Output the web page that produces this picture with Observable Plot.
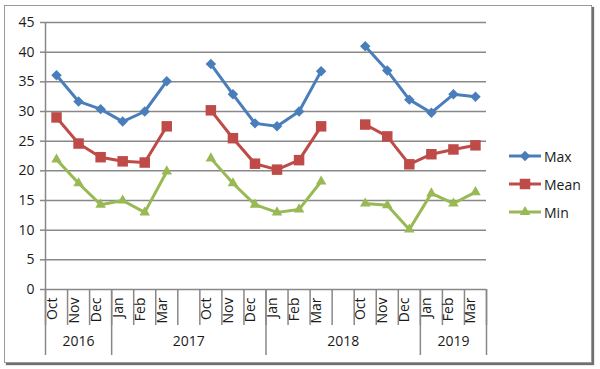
<!DOCTYPE html>
<html><head><meta charset="utf-8">
<script src="https://cdn.jsdelivr.net/npm/d3@7"></script>
<script src="https://cdn.jsdelivr.net/npm/@observablehq/plot@0.6"></script>
<style>
body{margin:0;background:#fff;}
#wrap{position:relative;width:600px;height:369px;font-family:"Open Sans",sans-serif;color:#1a1a1a;}
#frame{position:absolute;left:4px;top:5px;width:586px;height:356px;border:1px solid #9a9a9a;box-shadow:2px 2px 1px #707070;pointer-events:none;}
#chart{position:absolute;left:0;top:0;}
#legend{position:absolute;left:508px;top:142px;font-size:14px;}
.lrow{display:flex;align-items:center;height:28px;}
.lrow span{margin-left:2px;}
</style></head><body>
<div id="wrap"><div id="frame"></div><div id="chart"></div><div id="legend"></div></div>
<script>
// ---- data ----
const months = ["Oct","Nov","Dec","Jan","Feb","Mar"];
const seasonStartYears = [2016, 2017, 2018];
const seriesNames = ["Max","Mean","Min"];
const seriesColors = ["#4A7EBB","#BE4B48","#98B954"];
const maxValues  = [36.1,31.7,30.4,28.3,30.0,35.1, 38.0,32.9,28.0,27.5,30.0,36.8, 41.0,36.9,32.0,29.8,32.9,32.5];
const meanValues = [29.0,24.6,22.3,21.6,21.4,27.5, 30.2,25.5,21.2,20.2,21.8,27.5, 27.8,25.8,21.1,22.8,23.6,24.3];
const minValues  = [21.9,17.9,14.3,15.0,13.0,19.9, 22.1,17.9,14.3,13.0,13.5,18.2, 14.5,14.2,10.1,16.2,14.5,16.4];
const yTicks = [0,5,10,15,20,25,30,35,40,45];

// ---- slots (categories + blank gap between seasons) ----
const slots = [];
seasonStartYears.forEach((y0, s) => {
  months.forEach((m, mi) => slots.push({label: m, year: mi >= 3 ? y0 + 1 : y0, season: s, month: mi}));
  if (s < seasonStartYears.length - 1) slots.push({label: "", year: y0 + 1, season: null, month: null});
});
slots.forEach((d, i) => d.i = i);
const n = slots.length;

const yearGroups = [];
slots.forEach(d => {
  const last = yearGroups[yearGroups.length - 1];
  if (last && last.year === d.year) last.end = d.i + 1;
  else yearGroups.push({year: d.year, start: d.i, end: d.i + 1});
});
const yearBounds = [0, ...yearGroups.map(g => g.end)];

const seriesValues = [maxValues, meanValues, minValues];
const rows = [];
seriesNames.forEach((name, k) => {
  slots.forEach(d => {
    if (d.season === null) return;
    rows.push({series: name, key: name + d.season, x: d.i + 0.5, value: seriesValues[k][d.season * 6 + d.month]});
  });
});

const symbols = ["diamond2", "square", "triangle"];
const symSizes = [70, 110, 48];
const gridColor = "#888888";

const marks = [
  Plot.ruleY(yTicks, {x1: 0, x2: n, stroke: gridColor, strokeWidth: 1.5}),
  Plot.ruleX([0], {stroke: gridColor, strokeWidth: 1.5}),
  Plot.axisY({ticks: yTicks, label: null, tickSize: 5, tickPadding: 6, stroke: gridColor, strokeWidth: 1.5, fontSize: 14, fill: "#1a1a1a"}),
  Plot.axisX({ticks: d3.range(0, n + 1), label: null, tickSize: 36, tickFormat: () => "", stroke: gridColor, strokeWidth: 1.5}),
  Plot.axisX({ticks: yearBounds, label: null, tickSize: 66, tickFormat: () => "", stroke: gridColor, strokeWidth: 1.5}),
  Plot.text(slots.filter(d => d.label), {x: d => d.i + 0.5, frameAnchor: "bottom", text: "label", rotate: -90, textAnchor: "end", dy: 8, fontSize: 14, fill: "#1a1a1a"}),
  Plot.text(yearGroups, {x: d => (d.start + d.end) / 2, frameAnchor: "bottom", dy: 56, text: d => String(d.year), fontSize: 14, fill: "#1a1a1a"}),
  Plot.line(rows, {x: "x", y: "value", z: "key", stroke: "series", strokeWidth: 3})
];
seriesNames.forEach((name, k) => {
  marks.push(Plot.dot(rows.filter(r => r.series === name), {x: "x", y: "value", symbol: () => symbols[k], fill: seriesColors[k], stroke: "none", r: Math.sqrt(symSizes[k] / Math.PI)}));
});

const chart = Plot.plot({
  width: 600, height: 369,
  marginLeft: 45, marginRight: 114, marginTop: 22, marginBottom: 80,
  x: {domain: [0, n], axis: null},
  y: {domain: [0, 45], axis: null},
  color: {domain: seriesNames, range: seriesColors},
  symbol: {type: "identity"},
  style: {fontFamily: "Open Sans", background: "transparent", overflow: "visible"},
  marks
});
document.getElementById("chart").appendChild(chart);

// ---- legend ----
const legend = d3.select("#legend");
const symFns = [d3.symbolDiamond2, d3.symbolSquare, d3.symbolTriangle];
seriesNames.forEach((name, k) => {
  const row = legend.append("div").attr("class", "lrow");
  const svg = row.append("svg").attr("width", 34).attr("height", 16);
  svg.append("line").attr("x1", 1).attr("x2", 33).attr("y1", 8).attr("y2", 8).attr("stroke", seriesColors[k]).attr("stroke-width", 3);
  svg.append("path").attr("transform", "translate(17,8)").attr("d", d3.symbol(symFns[k], symSizes[k])()).attr("fill", seriesColors[k]);
  row.append("span").text(name);
});
</script>
</body></html>
